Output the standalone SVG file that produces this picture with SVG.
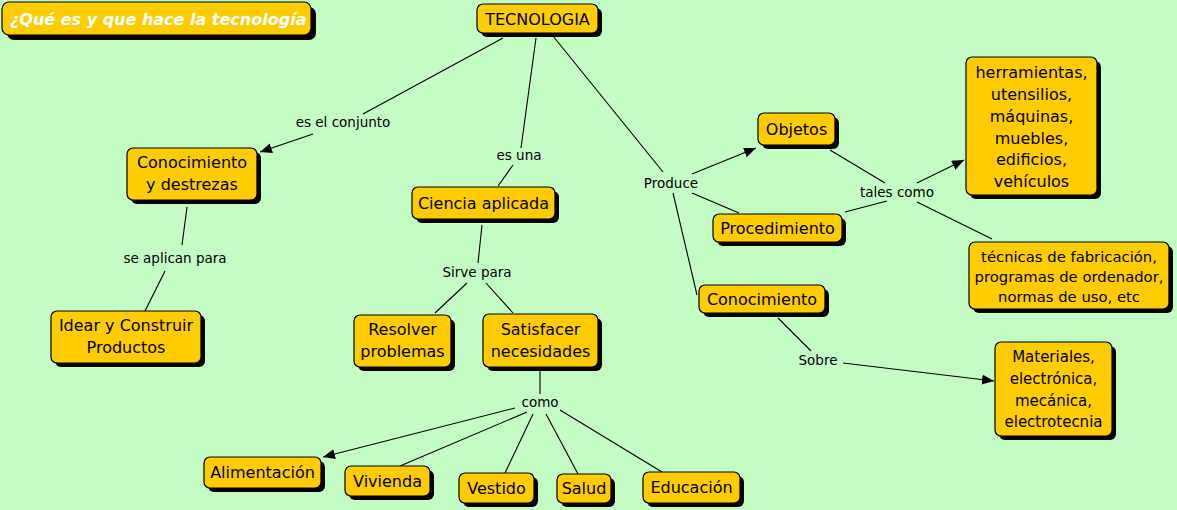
<svg xmlns="http://www.w3.org/2000/svg" width="1177" height="510" viewBox="0 0 1177 510">
<style>
.bg{fill:#c3fdc4}
.box{fill:#ffcc00;stroke:#000;stroke-width:1.2}
.sh{fill:#000}
.t{font-family:"DejaVu Sans",Verdana,sans-serif;font-size:16px;fill:#000;text-anchor:middle}
.lbl{font-family:"DejaVu Sans",Verdana,sans-serif;font-size:13.5px;fill:#000;text-anchor:middle}
.ttl{font-family:"DejaVu Sans",Verdana,sans-serif;font-size:16px;font-weight:bold;font-style:italic;fill:#fff}
.c line{stroke:#000;stroke-width:1.1}
</style>
<defs>
<marker id="ah" viewBox="0 0 12 10" refX="12" refY="5" markerWidth="12" markerHeight="10" markerUnits="userSpaceOnUse" orient="auto">
<path d="M0,0 L12,5 L0,10 z" fill="#000"/>
</marker>
</defs>
<rect class="bg" x="0" y="0" width="1177" height="510"/>

<g class="c" id="connectors">
<line x1="503" y1="38" x2="363" y2="114"/>
<line x1="313" y1="134" x2="260" y2="152" marker-end="url(#ah)"/>
<line x1="536" y1="38" x2="521" y2="148"/>
<line x1="513" y1="165" x2="498" y2="186"/>
<line x1="553" y1="36" x2="663" y2="172"/>
<line x1="692" y1="174" x2="756" y2="148" marker-end="url(#ah)"/>
<line x1="692" y1="193" x2="739" y2="213"/>
<line x1="673" y1="193" x2="697" y2="295"/>
<line x1="830" y1="150" x2="885" y2="183"/>
<line x1="845" y1="212" x2="887" y2="201"/>
<line x1="917" y1="183" x2="964" y2="160" marker-end="url(#ah)"/>
<line x1="917" y1="202" x2="992" y2="239"/>
<line x1="778" y1="318" x2="811" y2="351"/>
<line x1="843" y1="363" x2="994" y2="381" marker-end="url(#ah)"/>
<line x1="482" y1="225" x2="478" y2="263"/>
<line x1="467" y1="283" x2="435" y2="313"/>
<line x1="486" y1="283" x2="513" y2="313"/>
<line x1="187" y1="207" x2="182" y2="245"/>
<line x1="165" y1="271" x2="145" y2="311"/>
<line x1="540" y1="371" x2="540" y2="394"/>
<line x1="515" y1="408" x2="323" y2="457" marker-end="url(#ah)"/>
<line x1="527" y1="412" x2="400" y2="466"/>
<line x1="533" y1="414" x2="505" y2="473"/>
<line x1="546" y1="414" x2="578" y2="474"/>
<line x1="560" y1="410" x2="662" y2="472"/>
</g>

<g id="labels">
<text class="lbl" x="343" y="127">es el conjunto</text>
<text class="lbl" x="519" y="160">es una</text>
<text class="lbl" x="175" y="263">se aplican para</text>
<text class="lbl" x="477" y="277">Sirve para</text>
<text class="lbl" x="671" y="188">Produce</text>
<text class="lbl" x="897" y="197">tales como</text>
<text class="lbl" x="818" y="365">Sobre</text>
<text class="lbl" x="540" y="407">como</text>
</g>

<g id="title">
<rect class="sh" x="7" y="7" width="309" height="33" rx="7"/>
<rect class="box" x="2" y="2" width="309" height="33" rx="7"/>
<text class="ttl" x="10" y="25">¿Qué es y que hace la tecnología</text>
</g>

<g id="tecnologia">
<rect class="sh" x="481" y="8" width="121" height="29" rx="6"/>
<rect class="box" x="477" y="4" width="121" height="29" rx="6"/>
<text class="t" x="537.5" y="24.5">TECNOLOGIA</text>
</g>

<g id="conocimiento-destrezas">
<rect class="sh" x="131" y="152" width="130" height="52" rx="6"/>
<rect class="box" x="127" y="148" width="130" height="52" rx="6"/>
<text class="t" x="192" y="168">Conocimiento</text>
<text class="t" x="192" y="190">y destrezas</text>
</g>

<g id="idear">
<rect class="sh" x="55" y="315" width="150" height="52" rx="6"/>
<rect class="box" x="51" y="311" width="150" height="52" rx="6"/>
<text class="t" x="126" y="331">Idear y Construir</text>
<text class="t" x="126" y="353">Productos</text>
</g>

<g id="ciencia">
<rect class="sh" x="416" y="191" width="143" height="32" rx="6"/>
<rect class="box" x="412" y="187" width="143" height="32" rx="6"/>
<text class="t" x="483.5" y="209">Ciencia aplicada</text>
</g>

<g id="resolver">
<rect class="sh" x="358" y="319" width="97" height="52" rx="6"/>
<rect class="box" x="354" y="315" width="97" height="52" rx="6"/>
<text class="t" x="402.5" y="335">Resolver</text>
<text class="t" x="402.5" y="357">problemas</text>
</g>

<g id="satisfacer">
<rect class="sh" x="487" y="318" width="115" height="53" rx="6"/>
<rect class="box" x="483" y="314" width="115" height="53" rx="6"/>
<text class="t" x="540.5" y="335">Satisfacer</text>
<text class="t" x="540.5" y="357">necesidades</text>
</g>

<g id="objetos">
<rect class="sh" x="762" y="117" width="77" height="32" rx="6"/>
<rect class="box" x="758" y="113" width="77" height="32" rx="6"/>
<text class="t" x="796.5" y="135">Objetos</text>
</g>

<g id="procedimiento">
<rect class="sh" x="717" y="218" width="129" height="28" rx="6"/>
<rect class="box" x="713" y="214" width="129" height="28" rx="6"/>
<text class="t" x="777.5" y="234">Procedimiento</text>
</g>

<g id="conocimiento">
<rect class="sh" x="703" y="289" width="126" height="28" rx="6"/>
<rect class="box" x="699" y="285" width="126" height="28" rx="6"/>
<text class="t" x="762" y="305">Conocimiento</text>
</g>

<g id="herramientas">
<rect class="sh" x="970" y="61" width="131" height="138" rx="6"/>
<rect class="box" x="966" y="57" width="131" height="138" rx="6"/>
<text class="t" x="1031.5" y="78">herramientas,</text>
<text class="t" x="1031.5" y="100">utensilios,</text>
<text class="t" x="1031.5" y="122">máquinas,</text>
<text class="t" x="1031.5" y="144">muebles,</text>
<text class="t" x="1031.5" y="165">edificios,</text>
<text class="t" x="1031.5" y="187">vehículos</text>
</g>

<g id="tecnicas">
<rect class="sh" x="973" y="246" width="200" height="67" rx="6"/>
<rect class="box" x="969" y="242" width="200" height="67" rx="6"/>
<text class="t" x="1069" y="262" style="font-size:14.8px">técnicas de fabricación,</text>
<text class="t" x="1069" y="282" style="font-size:14.8px">programas de ordenador,</text>
<text class="t" x="1069" y="302" style="font-size:14.8px">normas de uso, etc</text>
</g>

<g id="materiales">
<rect class="sh" x="999" y="346" width="117" height="94" rx="6"/>
<rect class="box" x="995" y="342" width="117" height="94" rx="6"/>
<text class="t" x="1053.5" y="362" style="font-size:15px">Materiales,</text>
<text class="t" x="1053.5" y="384" style="font-size:15px">electrónica,</text>
<text class="t" x="1053.5" y="406" style="font-size:15px">mecánica,</text>
<text class="t" x="1053.5" y="427" style="font-size:15px">electrotecnia</text>
</g>

<g id="alimentacion">
<rect class="sh" x="208" y="461" width="117" height="31" rx="6"/>
<rect class="box" x="204" y="457" width="117" height="31" rx="6"/>
<text class="t" x="262.5" y="478">Alimentación</text>
</g>

<g id="vivienda">
<rect class="sh" x="349" y="470" width="85" height="30" rx="6"/>
<rect class="box" x="345" y="466" width="85" height="30" rx="6"/>
<text class="t" x="387.5" y="487">Vivienda</text>
</g>

<g id="vestido">
<rect class="sh" x="463" y="477" width="75" height="30" rx="6"/>
<rect class="box" x="459" y="473" width="75" height="30" rx="6"/>
<text class="t" x="496.5" y="494">Vestido</text>
</g>

<g id="salud">
<rect class="sh" x="561" y="478" width="54" height="29" rx="6"/>
<rect class="box" x="557" y="474" width="54" height="29" rx="6"/>
<text class="t" x="584" y="494">Salud</text>
</g>

<g id="educacion">
<rect class="sh" x="647" y="476" width="97" height="31" rx="6"/>
<rect class="box" x="643" y="472" width="97" height="31" rx="6"/>
<text class="t" x="691.5" y="493">Educación</text>
</g>
</svg>
